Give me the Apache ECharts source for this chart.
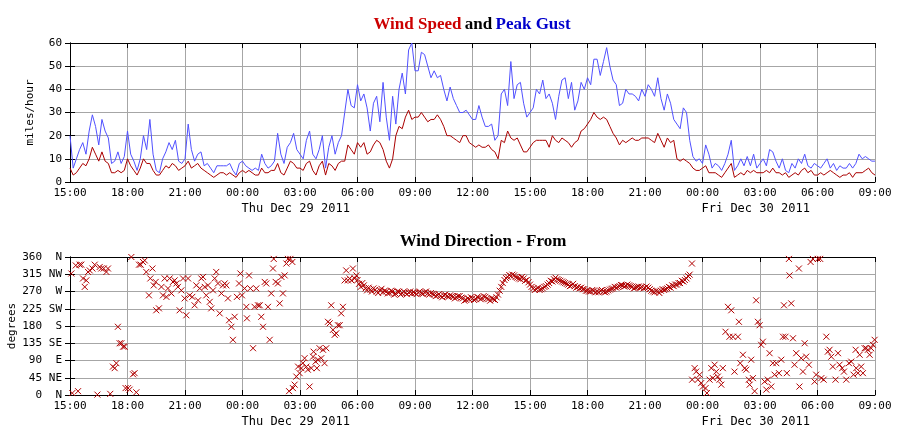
<!DOCTYPE html>
<html><head><meta charset="utf-8">
<script src="https://cdn.jsdelivr.net/npm/echarts@6/dist/echarts.min.js"></script>
<style>html,body{margin:0;padding:0;background:#fff}#c{width:900px;height:440px}</style>
</head><body><div id="c"></div>
<script>
// x values: hours since Wed Dec 28 2011 15:00
const startClockHour = 15;
const totalHours = 42;
const stepHours = 1 / 6; // 10-minute samples

const windSpeed = [
  6,3,4,6,8,7,10,15,12,9,13,9,8,4,4,5,4,5,10,
  7,5,3,6,10,8,8,5,3,3,5,7,6,8,7,5,6,7,
  9,6,7,8,6,5,4,3,2,3,4,4,3,4,3,2,4,5,
  4,5,4,3,3,6,4,4,5,5,8,4,3,6,9,8,6,6,
  5,8,9,5,3,7,9,3,8,7,5,8,9,9,16,14,12,17,
  15,17,12,13,16,18,17,14,9,6,10,20,24,23,28,31,27,28,
  28,30,28,26,27,27,29,27,24,20,20,19,18,17,20,20,17,16,
  15,16,15,15,16,14,13,10,18,17,22,19,18,19,16,13,13,15,
  17,18,18,18,18,15,20,18,17,19,18,17,15,17,18,22,23,25,
  27,30,28,27,28,27,24,21,19,16,18,17,18,19,18,18,19,19,
  19,18,17,21,18,15,19,17,18,10,9,10,9,8,6,5,5,6,
  7,4,4,4,3,2,4,6,8,2,3,4,3,5,4,5,4,4,
  4,5,4,6,4,4,3,4,2,3,4,3,5,6,4,5,3,3,
  4,3,4,5,4,3,2,3,3,4,2,4,4,4,5,6,4,3
];
const peakGust = [
  20,6,10,14,17,12,22,29,24,16,27,22,19,8,9,13,8,11,22,
  12,9,5,10,20,14,27,12,5,4,10,13,17,14,18,9,8,10,
  25,14,9,12,13,7,8,6,4,7,7,7,7,8,5,3,8,9,
  7,6,5,6,5,12,8,6,7,9,21,12,8,15,17,21,14,12,
  10,18,22,12,10,14,20,6,15,20,12,17,20,30,40,33,32,42,
  35,38,32,22,34,37,26,43,28,18,37,25,40,47,38,57,60,48,
  48,56,55,50,45,48,45,46,40,35,41,36,33,30,30,31,29,27,
  27,33,28,24,24,25,18,20,38,40,33,52,36,42,43,34,28,30,
  32,40,38,44,36,38,34,27,37,44,45,36,43,31,35,43,40,45,
  42,53,53,46,52,58,50,44,42,33,34,40,38,38,37,35,40,37,
  42,40,37,45,36,31,38,34,27,25,23,32,30,18,11,9,10,8,
  16,12,6,8,7,5,8,12,18,5,7,10,7,11,7,12,6,8,
  10,7,14,13,9,6,10,5,4,8,6,10,8,12,7,6,8,7,
  6,8,10,6,8,5,7,6,6,8,6,8,12,10,11,10,9,9
];
// [hours since start, degrees]
const windDirection = [
  [0.07,317],[0.12,5],[0.30,338],[0.42,10],[0.50,340],[0.59,340],[0.68,304],[0.77,282],[0.85,299],[0.94,321],
  [1.03,325],[1.17,330],[1.29,340],[1.43,1],[1.55,334],[1.63,330],[1.76,330],[1.90,321],[1.98,330],[2.10,3],
  [2.24,74],[2.33,70],[2.42,83],[2.50,178],[2.59,135],[2.68,135],[2.77,126],[2.85,126],[2.90,18],[3.03,18],
  [3.11,14],[3.20,360],[3.29,54],[3.37,57],[3.46,7],[3.60,340],[3.69,340],[3.81,347],[3.90,351],[3.98,321],
  [4.12,260],[4.19,304],[4.30,330],[4.37,286],[4.47,295],[4.50,221],[4.64,226],[4.77,282],[4.85,260],[4.94,304],
  [5.03,256],[5.11,278],[5.20,304],[5.29,265],[5.37,295],[5.46,299],[5.55,291],[5.63,282],[5.72,221],[5.81,273],
  [5.90,304],[5.98,252],[6.07,208],[6.16,304],[6.24,260],[6.38,256],[6.50,234],[6.59,286],[6.68,247],[6.77,278],
  [6.85,304],[6.94,308],[7.03,282],[7.11,260],[7.20,286],[7.29,243],[7.37,226],[7.46,273],[7.55,304],[7.63,321],
  [7.72,291],[7.81,213],[7.90,265],[7.98,286],[8.07,291],[8.16,286],[8.24,252],[8.30,195],[8.42,178],[8.50,144],
  [8.59,204],[8.71,256],[8.82,291],[8.89,317],[8.97,260],[9.11,278],[9.20,230],[9.23,200],[9.34,312],[9.41,278],
  [9.55,122],[9.63,230],[9.72,278],[9.81,234],[9.90,234],[9.98,204],[10.07,178],[10.16,295],[10.24,291],[10.33,230],
  [10.42,144],[10.50,265],[10.59,330],[10.63,355],[10.73,295],[10.85,291],[10.94,239],[11.03,308],[11.11,265],[11.20,312],
  [11.29,343],[11.37,355],[11.43,10],[11.50,355],[11.60,347],[11.63,18],[11.72,27],[11.81,48],[11.90,74],[11.98,57],
  [12.07,70],[12.15,83],[12.24,96],[12.33,74],[12.41,66],[12.50,22],[12.59,70],[12.68,100],[12.71,113],[12.81,87],
  [12.88,70],[12.94,92],[13.02,122],[13.11,96],[13.20,118],[13.28,83],[13.37,122],[13.46,191],[13.55,187],[13.63,234],
  [13.72,170],[13.81,157],[13.89,161],[13.98,182],[14.07,182],[14.15,213],[14.24,230],[14.33,299],[14.41,325],[14.50,299],
  [14.59,304],[14.68,299],[14.76,330],[14.85,304],[14.94,312],
  [15.00,300],[15.08,290],[15.17,282],[15.25,292],[15.33,286],[15.42,278],[15.50,273],[15.58,280],[15.67,275],[15.75,270],
  [15.83,278],[15.92,274],[16.00,270],[16.08,266],[16.17,273],[16.25,277],[16.33,268],[16.42,272],[16.50,270],[16.58,265],
  [16.67,266],[16.75,272],[16.83,270],[16.92,262],[17.00,264],[17.08,270],[17.17,269],[17.25,262],[17.33,266],[17.42,270],
  [17.50,266],[17.58,263],[17.67,267],[17.75,270],[17.83,265],[17.92,268],[18.00,266],[18.08,263],[18.17,267],[18.25,270],
  [18.33,265],[18.42,264],[18.50,268],[18.58,270],[18.67,265],[18.75,262],[18.83,266],[18.92,264],[19.00,262],[19.08,258],
  [19.17,260],[19.25,263],[19.33,258],[19.42,255],[19.50,260],[19.58,262],[19.67,258],[19.75,256],[19.83,260],[19.92,258],
  [20.00,256],[20.08,252],[20.17,255],[20.25,258],[20.33,258],[20.42,254],[20.50,252],[20.58,246],[20.67,248],[20.75,252],
  [20.83,250],[20.92,255],[21.00,252],[21.08,248],[21.17,250],[21.25,256],[21.33,254],[21.42,250],[21.50,252],[21.58,258],
  [21.67,256],[21.75,252],[21.83,250],[21.92,246],[22.00,253],[22.08,250],[22.17,248],[22.25,255],[22.33,262],[22.42,272],
  [22.50,282],[22.58,292],[22.67,300],[22.75,305],[22.83,308],[22.92,313],[23.00,310],[23.08,314],[23.17,312],[23.25,308],
  [23.33,306],[23.42,304],[23.50,302],[23.58,308],[23.67,304],[23.75,298],[23.83,300],[23.92,294],[24.00,288],[24.08,282],
  [24.17,278],[24.25,274],[24.33,276],[24.42,280],[24.50,274],[24.58,276],[24.67,278],[24.75,282],[24.83,284],[24.92,288],
  [25.00,292],[25.08,298],[25.17,296],[25.25,302],[25.33,306],[25.42,302],[25.50,300],[25.58,298],[25.67,296],[25.75,294],
  [25.83,292],[25.92,290],[26.00,288],[26.08,284],[26.17,286],[26.25,290],[26.33,284],[26.42,280],[26.50,282],[26.58,278],
  [26.67,280],[26.75,276],[26.83,276],[26.92,272],[27.00,272],[27.08,270],[27.17,270],[27.25,274],[27.33,272],[27.42,268],
  [27.50,270],[27.58,268],[27.67,272],[27.75,274],[27.83,270],[27.92,268],[28.00,270],[28.08,273],[28.17,275],[28.25,277],
  [28.33,278],[28.42,282],[28.50,280],[28.58,282],[28.67,284],[28.75,287],[28.83,286],[28.92,283],[29.00,285],[29.08,288],
  [29.17,286],[29.25,284],[29.33,282],[29.42,278],[29.50,280],[29.58,282],[29.67,283],[29.75,280],[29.83,282],[29.92,278],
  [30.00,280],[30.08,283],[30.17,280],[30.25,276],[30.33,272],[30.42,270],[30.50,268],[30.58,272],[30.67,270],[30.75,266],
  [30.83,272],[30.92,276],[31.00,274],[31.08,276],[31.17,278],[31.25,282],[31.33,280],[31.42,286],[31.50,284],[31.58,288],
  [31.67,288],[31.75,292],[31.83,292],[31.92,298],[32.00,296],[32.08,300],[32.17,304],[32.25,310],[32.33,314],[32.45,343],
  [32.46,40],[32.59,70],[32.67,61],[32.76,40],[32.85,53],[32.93,31],[33.02,22],[33.16,18],[33.23,5],[33.37,40],
  [33.46,70],[33.54,44],[33.63,79],[33.72,61],[33.80,48],[33.89,40],[33.98,27],[34.06,70],[34.20,165],[34.33,230],
  [34.41,152],[34.50,221],[34.59,152],[34.67,61],[34.85,152],[34.90,191],[34.97,83],[35.11,105],[35.20,70],[35.28,66],
  [35.42,40],[35.46,27],[35.54,92],[35.63,44],[35.72,10],[35.80,247],[35.89,191],[35.98,182],[36.06,131],[36.15,139],
  [36.24,35],[36.33,14],[36.41,40],[36.50,109],[36.59,22],[36.67,83],[36.76,53],[36.85,83],[36.99,57],[37.11,92],
  [37.20,152],[37.25,234],[37.33,152],[37.40,57],[37.51,355],[37.54,312],[37.63,239],[37.72,148],[37.80,79],[37.89,109],
  [38.03,330],[38.06,22],[38.15,96],[38.24,61],[38.33,135],[38.41,100],[38.55,79],[38.64,347],[38.76,355],[38.85,35],
  [38.93,53],[39.02,355],[39.14,355],[39.20,44],[39.32,40],[39.46,152],[39.54,113],[39.63,118],[39.72,100],[39.80,74],
  [39.94,40],[40.07,109],[40.15,79],[40.29,70],[40.38,61],[40.50,40],[40.64,83],[40.76,87],[40.88,53],[40.99,118],
  [41.02,70],[41.11,57],[41.20,105],[41.28,74],[41.37,57],[41.46,122],[41.54,122],[41.63,118],[41.72,105],[41.80,122],
  [41.89,131],[41.98,144]
];
const speedTicks = { min: 0, max: 60, step: 10 };
const dirTicks = { min: 0, max: 360, step: 45 };
const compassLabels = ['N','NE','E','SE','S','SW','W','NW','N'];
const dateLabels = [
  { hour: 9, text: 'Thu Dec 29 2011' },
  { hour: 33, text: 'Fri Dec 30 2011' }
];

const MONO = 'DejaVu Sans Mono';
const SERIF = 'Liberation Serif';
const GRID_GRAY = '#a6a6a6';
const SPEED_COLOR = '#aa0000';
const GUST_COLOR = '#5050ff';
const DIR_COLOR = '#b00000';

function hourLabel(v) {
  const h = (startClockHour + Math.round(v)) % 24;
  return (h < 10 ? '0' : '') + h + ':00';
}

function timeAxis(gridIndex, bottom) {
  return {
    gridIndex, type: 'value', min: 0, max: totalHours, interval: 3,
    position: bottom ? 'bottom' : 'top',
    axisLine: { show: true, onZero: false, lineStyle: { color: '#000', width: 1 } },
    axisTick: { show: true, inside: true, length: 5, lineStyle: { color: '#000' } },
    axisLabel: bottom ? { show: true, formatter: hourLabel, fontFamily: MONO, fontSize: 11, color: '#000', margin: 6, showMinLabel: true, showMaxLabel: true } : { show: false },
    splitLine: { show: bottom, lineStyle: { color: GRID_GRAY, width: 1 } }
  };
}

const chart = echarts.init(document.getElementById('c'), null, { renderer: 'canvas' });

const option = {
  animation: false,
  backgroundColor: '#fff',
  grid: [
    { left: 70, right: 25, top: 43, height: 139, containLabel: false, outerBoundsMode: 'none' },
    { left: 70, right: 25, top: 257, height: 138, containLabel: false, outerBoundsMode: 'none' }
  ],
  xAxis: [timeAxis(0, true), timeAxis(0, false), timeAxis(1, true), timeAxis(1, false)],
  yAxis: [
    {
      gridIndex: 0, type: 'value', min: speedTicks.min, max: speedTicks.max, interval: speedTicks.step,
      name: 'miles/hour', nameLocation: 'middle', nameGap: 34, nameMoveOverlap: false,
      nameTextStyle: { fontFamily: MONO, fontSize: 11, color: '#000' },
      axisLine: { show: true, lineStyle: { color: '#000' } },
      axisTick: { show: true, inside: true, length: 5, lineStyle: { color: '#000' } },
      axisLabel: { fontFamily: MONO, fontSize: 11, color: '#000', margin: 8 },
      splitLine: { show: true, lineStyle: { color: GRID_GRAY } }
    },
    {
      gridIndex: 0, type: 'value', position: 'right', min: speedTicks.min, max: speedTicks.max, interval: speedTicks.step,
      axisLine: { show: true, lineStyle: { color: '#000' } },
      axisTick: { show: true, inside: true, length: 5, lineStyle: { color: '#000' } },
      axisLabel: { show: false }, splitLine: { show: false }
    },
    {
      gridIndex: 1, type: 'value', min: dirTicks.min, max: dirTicks.max, interval: dirTicks.step,
      name: 'degrees', nameLocation: 'middle', nameGap: 52, nameMoveOverlap: false,
      nameTextStyle: { fontFamily: MONO, fontSize: 11, color: '#000' },
      axisLine: { show: true, lineStyle: { color: '#000' } },
      axisTick: { show: true, inside: true, length: 5, lineStyle: { color: '#000' } },
      axisLabel: {
        margin: 8, color: '#000',
        formatter: v => '{n|' + v + '}{d|' + compassLabels[Math.round(v / dirTicks.step)] + '}',
        rich: {
          n: { fontFamily: MONO, fontSize: 11, color: '#000', width: 24, align: 'right' },
          d: { fontFamily: MONO, fontSize: 11, color: '#000', width: 20, align: 'right' }
        }
      },
      splitLine: { show: true, lineStyle: { color: GRID_GRAY } }
    },
    {
      gridIndex: 1, type: 'value', position: 'right', min: dirTicks.min, max: dirTicks.max, interval: dirTicks.step,
      axisLine: { show: true, lineStyle: { color: '#000' } },
      axisTick: { show: true, inside: true, length: 5, lineStyle: { color: '#000' } },
      axisLabel: { show: false }, splitLine: { show: false }
    }
  ],
  series: [
    {
      name: 'Peak Gust', type: 'line', xAxisIndex: 0, yAxisIndex: 0,
      data: peakGust.map((v, i) => [i * stepHours, v]),
      showSymbol: false, symbol: 'none',
      lineStyle: { color: GUST_COLOR, width: 1 }, z: 3
    },
    {
      name: 'Wind Speed', type: 'line', xAxisIndex: 0, yAxisIndex: 0,
      data: windSpeed.map((v, i) => [i * stepHours, v]),
      showSymbol: false, symbol: 'none',
      lineStyle: { color: SPEED_COLOR, width: 1 }, z: 4
    },
    {
      name: 'Wind Direction', type: 'scatter', xAxisIndex: 2, yAxisIndex: 2,
      data: windDirection,
      symbol: 'path://M0 0L10 10M10 0L0 10', symbolSize: 6,
      itemStyle: { color: 'rgba(0,0,0,0)', borderColor: DIR_COLOR, borderWidth: 1, opacity: 1 },
      z: 4
    }
  ]
};
chart.setOption(option);

// titles and date captions
const graphics = [
  {
    type: 'text', x: 472, y: 25,
    style: {
      text: '{r|Wind Speed} {k|and} {b|Peak Gust}',
      align: 'center', verticalAlign: 'middle',
      rich: {
        r: { fontFamily: SERIF, fontWeight: 'bold', fontSize: 17, fill: '#cc0000' },
        k: { fontFamily: SERIF, fontWeight: 'bold', fontSize: 17, fill: '#000' },
        b: { fontFamily: SERIF, fontWeight: 'bold', fontSize: 17, fill: '#0000cc' }
      }
    }
  },
  {
    type: 'text', x: 483, y: 242,
    style: {
      text: 'Wind Direction - From', align: 'center', verticalAlign: 'middle',
      font: 'bold 17px "Liberation Serif"', fill: '#000'
    }
  }
];
[0, 1].forEach(gi => {
  const axisY = chart.convertToPixel({ xAxisIndex: gi * 2, yAxisIndex: gi * 2 }, [0, 0])[1];
  dateLabels.forEach(d => {
    const px = chart.convertToPixel({ xAxisIndex: gi * 2, yAxisIndex: gi * 2 }, [d.hour, 0])[0];
    graphics.push({
      type: 'text', x: px - 1, y: axisY + 27,
      style: { text: d.text, align: 'left', verticalAlign: 'middle', font: '12px "' + MONO + '"', fill: '#000' }
    });
  });
});
chart.setOption({ graphic: graphics });
</script>
</body></html>
